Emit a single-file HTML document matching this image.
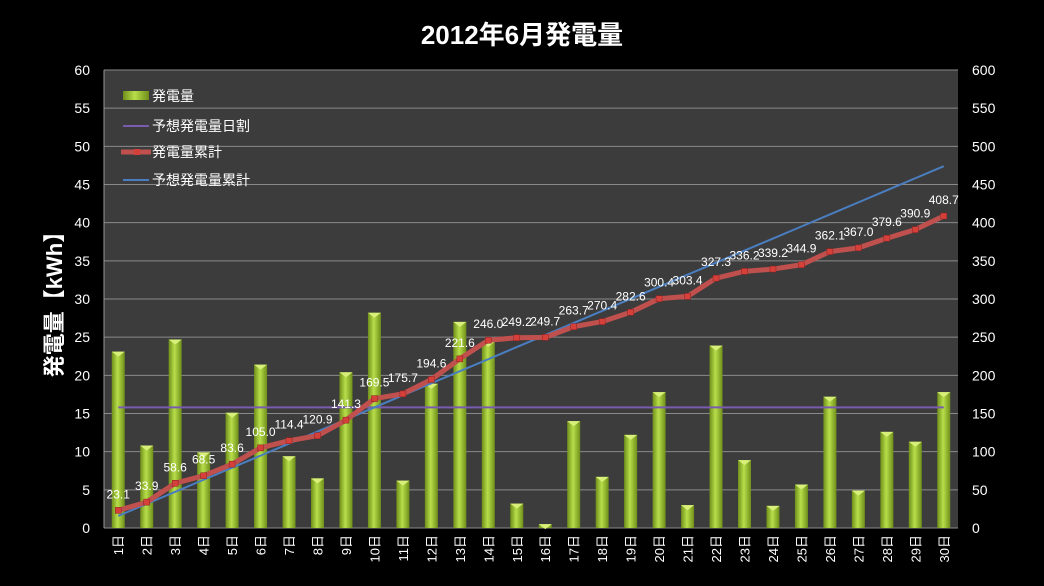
<!DOCTYPE html>
<html><head><meta charset="utf-8"><style>
body{margin:0;background:#000;width:1044px;height:581px;overflow:hidden;font-family:"Liberation Sans","Noto Sans CJK JP",sans-serif}
</style></head><body>
<svg id="c" width="1044" height="581" xmlns="http://www.w3.org/2000/svg">
<defs>
<linearGradient id="bg" x1="0" x2="1" y1="0" y2="0">
<stop offset="0" stop-color="#6f8f1a"/><stop offset="0.45" stop-color="#b8de4a"/><stop offset="1" stop-color="#6f8f1a"/>
</linearGradient>
</defs>
<rect x="0" y="0" width="1044" height="581" fill="#000"/>
<text x="522" y="44" fill="#fff" font-size="26" font-weight="bold" text-anchor="middle">2012年6月発電量</text>
<rect x="104" y="70" width="854" height="458" fill="#3c3c3c"/>
<g id="grid"></g><g id="bars"></g><g id="lines"></g><g id="labels"></g>
<text transform="translate(62,299) rotate(-90)" fill="#fff" font-size="22" font-weight="bold" text-anchor="middle">発電量【kWh】</text>
<g>
<rect x="123" y="91" width="26" height="9" fill="url(#bg)"/>
<text x="152" y="101" fill="#fff" font-size="14">発電量</text>
<line x1="123" y1="126" x2="149" y2="126" stroke="#7a5cae" stroke-width="2"/>
<text x="152" y="131" fill="#fff" font-size="14">予想発電量日割</text>
<line x1="121" y1="152" x2="151" y2="152" stroke="#c0504d" stroke-width="5"/>
<rect x="134" y="149" width="6" height="6" fill="#d6403a"/>
<text x="152" y="157" fill="#fff" font-size="14">発電量累計</text>
<line x1="123" y1="180" x2="149" y2="180" stroke="#4a7ec0" stroke-width="2"/>
<text x="152" y="185" fill="#fff" font-size="14">予想発電量累計</text>
</g>
</svg>
<script>
const days=["1日","2日","3日","4日","5日","6日","7日","8日","9日","10日","11日","12日","13日","14日","15日","16日","17日","18日","19日","20日","21日","22日","23日","24日","25日","26日","27日","28日","29日","30日"];
const daily=[23.1,10.8,24.7,9.9,15.1,21.4,9.4,6.5,20.4,28.2,6.2,18.9,27.0,24.4,3.2,0.5,14.0,6.7,12.2,17.8,3.0,23.9,8.9,2.9,5.7,17.2,4.9,12.6,11.3,17.8];
const cumulative=[23.1,33.9,58.6,68.5,83.6,105.0,114.4,120.9,141.3,169.5,175.7,194.6,221.6,246.0,249.2,249.7,263.7,270.4,282.6,300.4,303.4,327.3,336.2,339.2,344.9,362.1,367.0,379.6,390.9,408.7];
const forecastDaily=15.8;
const leftTicks=[0,5,10,15,20,25,30,35,40,45,50,55,60];
const rightTicks=[0,50,100,150,200,250,300,350,400,450,500,550,600];
const NS="http://www.w3.org/2000/svg";
const X0=104,W=854,Y0=528,H=458;
const bw=W/days.length;
function xc(i){return X0+bw*(i+0.5);}
function yL(v){return Y0-v/60*H;}
function yR(v){return Y0-v/600*H;}
function mk(t,a,p){const e=document.createElementNS(NS,t);for(const k in a)e.setAttribute(k,a[k]);p.appendChild(e);return e;}
const grid=document.getElementById('grid');
leftTicks.forEach((v)=>{
 const y=yL(v);
 const l=mk('line',{x1:X0,x2:X0+W,y1:y,y2:y,stroke:'#8a8a8a','stroke-width':1},grid);
 
 
 const t=mk('text',{x:X0-14,y:y+5,fill:'#fff','font-size':14,'text-anchor':'end'},grid);t.textContent=v;
 
 
});
rightTicks.forEach((v)=>{
 const t=mk('text',{x:972,y:yR(v)+5,fill:'#fff','font-size':14},grid);t.textContent=v;
 
 
});
mk('line',{x1:X0,x2:X0,y1:70,y2:Y0,stroke:'#999'},grid);
const bars=document.getElementById('bars');
daily.forEach((v,i)=>{
 const w=13,x=xc(i)-w/2,y=yL(v);
 const r=mk('rect',{x:x,y:y,width:w,height:Y0-y,fill:'url(#bg)'},bars);
 
 
 const tip=mk('polygon',{points:`${x},${y} ${x+w},${y} ${xc(i)},${y+5}`,fill:'#d8f07a'},bars);
 
 
 const t=mk('text',{transform:`translate(${xc(i)+5},${Y0+7}) rotate(-90)`,fill:'#fff','font-size':13,'text-anchor':'end'},bars);
 t.textContent=days[i];
 
 
});
const lines=document.getElementById('lines');
const fd=mk('line',{x1:xc(0),x2:xc(days.length-1),y1:yL(forecastDaily),y2:yL(forecastDaily),stroke:'#7a5cae','stroke-width':2},lines);


const fc=mk('polyline',{points:days.map((d,i)=>xc(i)+','+yR(forecastDaily*(i+1))).join(' '),fill:'none',stroke:'#4a7ec0','stroke-width':2},lines);


const cl=mk('polyline',{points:cumulative.map((v,i)=>xc(i)+','+yR(v)).join(' '),fill:'none',stroke:'#c0504d','stroke-width':5,'stroke-linejoin':'round'},lines);


const labels=document.getElementById('labels');
cumulative.forEach((v,i)=>{
 const m=mk('rect',{x:xc(i)-3,y:yR(v)-3,width:6,height:6,fill:'#d6403a',stroke:'#8a2020','stroke-width':0.5},lines);
 
 
 const t=mk('text',{x:xc(i),y:yR(v)-12,fill:'#fff','font-size':12,'text-anchor':'middle'},labels);
 t.textContent=v.toFixed(1);
 
 
});
</script>
</body></html>
